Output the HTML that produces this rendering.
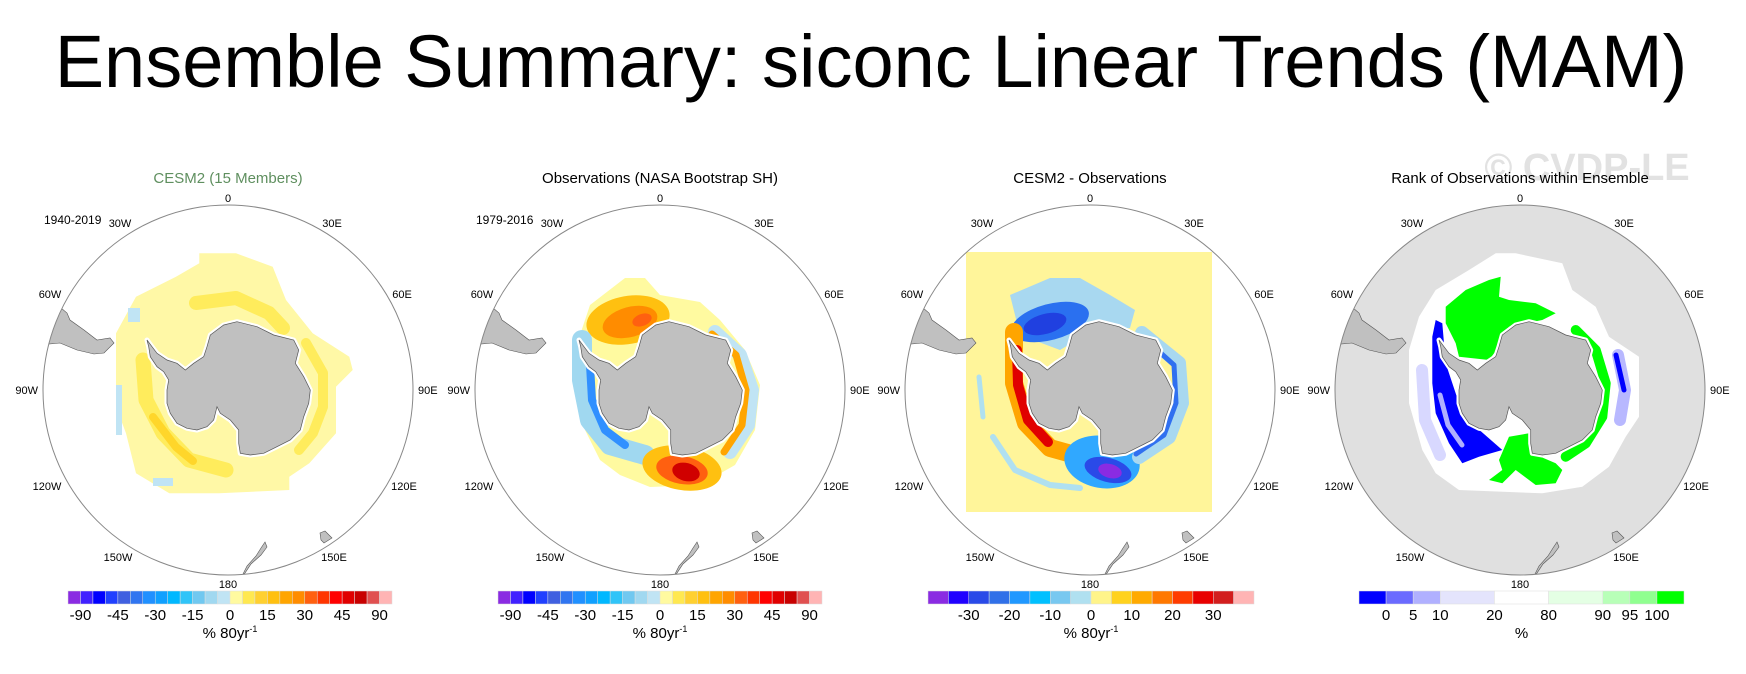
<!DOCTYPE html>
<html><head><meta charset="utf-8">
<style>
html,body{margin:0;padding:0;background:#fff;}
svg{display:block;font-family:"Liberation Sans",sans-serif;}
</style></head>
<body>
<svg id="chart" width="1746" height="674" viewBox="0 0 1746 674" xmlns="http://www.w3.org/2000/svg">
<text x="1587" y="180" text-anchor="middle" font-size="38" font-weight="bold" fill="#e2e2e2">© CVDP-LE</text>
<text x="871" y="87" text-anchor="middle" font-size="74" fill="#000">Ensemble Summary: siconc Linear Trends (MAM)</text>
<g id="panels"></g>
</svg>
<script>
// ---- colorbar data ----
const trendColors = ["#8a2be2","#4020ff","#0000ff","#2040ff","#4060e0","#3075f0","#2090ff","#10a0ff","#00b8ff","#30c4f8","#70c8f0","#a0d8f0","#c0e4f4","#fffaa0","#ffe850","#ffd030","#ffc010","#ffa500","#ff8c00","#ff6010","#ff3500","#ff0000","#e00000","#c80000","#e05050","#ffb4b4"];
const trendLabels = ["-90","-45","-30","-15","0","15","30","45","90"];
const trendLabelIdx = [1,4,7,10,13,16,19,22,25];
const diffColors = ["#8a2be2","#2000ff","#2a4ae8","#3070e8","#2098ff","#00c0ff","#78c8f0","#b0e0f0","#fff48a","#ffd21e","#ffaa00","#ff7800","#ff3c00","#e80000","#d21e1e","#ffb4b4"];
const diffLabels = ["-30","-20","-10","0","10","20","30"];
const diffLabelIdx = [2,4,6,8,10,12,14];
const rankColors = ["#0000ff","#6a6aff","#b0b0ff","#e4e4fc","#ffffff","#e4ffe4","#b8ffb8","#90ff90","#00ff00"];
const rankWidths = [1,1,1,2,2,2,1,1,1];
const rankLabels = ["0","5","10","20","80","90","95","100"];

const NS="http://www.w3.org/2000/svg";
const root=document.getElementById('panels');
function mk(tag,attrs,parent){const e=document.createElementNS(NS,tag);for(const k in attrs)e.setAttribute(k,attrs[k]);(parent||root).appendChild(e);return e;}
function pts(cx,cy,arr){return arr.map(p=>(cx+p[0]).toFixed(1)+","+(cy+p[1]).toFixed(1)).join(" ");}
function pth(cx,cy,arr){return "M"+arr.map(p=>(cx+p[0]).toFixed(1)+" "+(cy+p[1]).toFixed(1)).join(" L");}

const ANT=[[-17.7,-55],[-4.3,-65],[9,-68.3],[29,-63.3],[45.7,-55],[65.7,-50],[70.7,-40],[67.3,-26.7],[75.7,-13.3],[82.3,0],[80.7,13.3],[75.7,26.7],[72.3,40],[62.3,50],[49,56.7],[35.7,63.3],[22.3,65],[12.3,63.3],[10.7,53.3],[10.7,40],[2.3,30],[-7.7,23.3],[-11,16.7],[-14.3,30],[-21,36.7],[-31,40],[-41,38.3],[-51,33.3],[-57.7,23.3],[-61,13.3],[-61,0],[-59.3,-10],[-64.3,-18.3],[-71,-23.3],[-77.7,-33.3],[-79.3,-43.3],[-81,-50],[-76,-43.3],[-71,-36.7],[-61,-30],[-51,-26.7],[-42.7,-20],[-34.3,-26.7],[-24.3,-33.3],[-21,-43.3]];
const SAM=[[-190,-55],[-168,-83],[-161,-77],[-158,-70],[-144,-60],[-131,-50],[-118,-52],[-114,-47],[-124,-37],[-134,-36],[-151,-40],[-168,-47],[-190,-45]];
const NZ=[[37,152],[39,157],[33,165],[23,174],[17,183],[14,186],[19,176],[28,166],[33,158]];
const TAS=[[92,143],[97,141],[104,148],[96,153],[93,150]];
const R=185, CY=390;
const centers=[228,660,1090,1520];
const titles=["CESM2 (15 Members)","Observations (NASA Bootstrap SH)","CESM2 - Observations","Rank of Observations within Ensemble"];
const lonLabels=[["0",0,-192,"middle"],["30E",104,-167,"middle"],["60E",174,-96,"middle"],["90E",190,0,"start"],["120E",176,96,"middle"],["150E",106,167,"middle"],["180",0,194,"middle"],["150W",-110,167,"middle"],["120W",-181,96,"middle"],["90W",-190,0,"end"],["60W",-178,-96,"middle"],["30W",-108,-167,"middle"]];

function blob(g,cx,cy,arr,fill){const e=mk('polygon',{points:pts(cx,cy,arr),fill:fill},g);return e;}
function band(g,cx,cy,arr,col,w){return mk('path',{d:pth(cx,cy,arr),fill:'none',stroke:col,'stroke-width':w,'stroke-linecap':'round','stroke-linejoin':'round'},g);}
function ell(g,x,y,rx,ry,col,rot){return mk('ellipse',{cx:x,cy:y,rx:rx,ry:ry,fill:col,transform:'rotate('+(rot||0)+' '+x+' '+y+')'},g);}

function field(i,cx,g){
  const cy=CY;
  if(i===0){
    blob(g,cx,cy,[[-28.7,-136.7],[8,-136.7],[44.7,-123.3],[58,-90],[84.7,-56.7],[121.3,-33.3],[124.7,-20],[108,-3.3],[108,43.3],[81.3,73.3],[61.3,86.7],[61.3,100],[-8.7,103.3],[-58.7,103.3],[-92,83.3],[-102,43.3],[-112,16.7],[-112,-56.7],[-92,-93.3],[-52,-113.3],[-28.7,-126.7]],"#fff8a6");
    band(g,cx,cy,[[-32,-87],[8,-92],[41,-77],[55,-62]],"#ffec5c",14);
    band(g,cx,cy,[[-85,-30],[-82,10],[-65,43],[-39,70],[-2,80]],"#ffec5c",15);
    band(g,cx,cy,[[-75,27],[-52,57],[-35,71]],"#ffd62a",8);
    band(g,cx,cy,[[78,-47],[95,-17],[95,17],[85,43],[71,60]],"#ffec5c",10);
    mk('rect',{x:cx-112,y:cy-5,width:6,height:50,fill:"#c0e4f4"},g);
    mk('rect',{x:cx-100,y:cy-82,width:12,height:14,fill:"#c0e4f4"},g);
    mk('rect',{x:cx-75,y:cy+88,width:20,height:8,fill:"#c0e4f4"},g);
  } else if(i===1){
    blob(g,cx,cy,[[-70,-85],[-35,-112],[-15,-112],[0,-95],[40,-88],[60,-70],[85,-40],[100,-5],[95,40],[75,75],[40,95],[-10,97],[-40,85],[-60,70],[-75,40],[-78,0],[-80,-55]],"#fffaa0");
    ell(g,cx-32,cy-70,42,24,"#ffc010",-10);
    ell(g,cx-30,cy-68,28,15,"#ff8c00",-15);
    ell(g,cx-18,cy-70,10,6,"#ff6010",-20);
    band(g,cx,cy,[[55,-58],[80,-35],[92,0],[88,35],[70,62]],"#c0e4f4",14);
    band(g,cx,cy,[[52,-56],[76,-35],[86,0],[82,35],[64,62]],"#ffa500",7);
    band(g,cx,cy,[[-78,-50],[-78,-10],[-70,30],[-50,55],[-15,65]],"#a0d8f0",20);
    band(g,cx,cy,[[-70,-25],[-68,10],[-55,40],[-35,55]],"#3090ff",8);
    ell(g,cx+22,cy+78,40,22,"#ffc010",10);
    ell(g,cx+22,cy+80,26,14,"#ff6010",10);
    ell(g,cx+26,cy+82,14,9,"#d00000",15);
  } else if(i===2){
    mk('rect',{x:cx-124,y:cy-138,width:246,height:260,fill:"#fff59a"},g);
    blob(g,cx,cy,[[-80,-95],[-40,-112],[-10,-112],[20,-95],[45,-80],[40,-62],[0,-58],[-30,-40],[-70,-55]],"#a8d8f0");
    ell(g,cx-40,cy-68,40,18,"#2a70f0",-15);
    ell(g,cx-45,cy-66,22,10,"#2040e0",-15);
    band(g,cx,cy,[[-76,-58],[-76,-7],[-64,33],[-40,58],[-22,63]],"#ffa500",18);
    band(g,cx,cy,[[-73,-40],[-72,-5],[-62,30],[-42,52]],"#e00000",10);
    ell(g,cx+12,cy+72,38,26,"#30a8ff",10);
    ell(g,cx+18,cy+80,24,12,"#2a4ae8",15);
    ell(g,cx+20,cy+81,12,7,"#8a2be2",15);
    band(g,cx,cy,[[52,-57],[89,-27],[92,13],[79,47],[49,67]],"#a8d8f0",14);
    band(g,cx,cy,[[54,-52],[84,-25],[86,13],[74,45],[46,64]],"#3070f0",5);
    band(g,cx,cy,[[-111,-13],[-107,27]],"#b0e0f0",5);
    band(g,cx,cy,[[-97,47],[-75,80],[-40,95],[-10,98]],"#b0e0f0",6);
  } else {
    mk('circle',{cx:cx,cy:cy,r:R,fill:"#e0e0e0"},g);
    blob(g,cx,cy,[[-24.3,-136.7],[-4.3,-136.7],[42.3,-126.7],[52.3,-100],[75.7,-83.3],[89,-53.3],[119,-33.3],[119,26.7],[105.7,46.7],[89,76.7],[62.3,96.7],[22.3,103.3],[-61,100],[-84.3,83.3],[-97.7,60],[-111,13.3],[-111,-40],[-101,-73.3],[-84.3,-100],[-51,-120]],"#ffffff");
    band(g,cx,cy,[[98,-35],[105,0],[100,30]],"#b8b8ff",12);
    band(g,cx,cy,[[-98,-20],[-95,30],[-80,65]],"#d8d8ff",12);
    blob(g,cx,cy,[[-84.3,-70],[-77.7,-66.7],[-74.3,-26.7],[-61,13.3],[-44.3,36.7],[-17.7,60],[-41,66.7],[-57.7,73.3],[-71,53.3],[-84.3,23.3],[-87.7,-6.7],[-87.7,-53.3]],"#0000ff");
    band(g,cx,cy,[[-80,5],[-72,35],[-58,55]],"#b0b0ff",5);
    blob(g,cx,cy,[[-74.3,-83.3],[-54.3,-100],[-31,-110],[-19.3,-113.3],[-21,-93.3],[-11,-90],[15.7,-86.7],[35.7,-76.7],[22.3,-70],[-11,-63.3],[-21,-43.3],[-31,-30],[-61,-33.3],[-64.3,-46.7],[-74.3,-66.7]],"#00ff00");
    blob(g,cx,cy,[[-31,90],[-17.7,80],[-21,70],[-11,46.7],[9,43.3],[12.3,63.3],[35.7,73.3],[42.3,80],[35.7,93.3],[15.7,95],[-4.3,80],[-17.7,93.3]],"#00ff00");
    band(g,cx,cy,[[55.7,-60],[75.7,-40],[85.7,-6.7],[82.3,26.7],[65.7,53.3],[45.7,66.7]],"#00ff00",10);
    band(g,cx,cy,[[96,-35],[104,0]],"#0000ff",5);
  }
}

centers.forEach((cx,i)=>{
  const g=mk('g',{});
  
  
  const cid='clip'+i;
  const cp=mk('clipPath',{id:cid},g); mk('circle',{cx:cx,cy:CY,r:R},cp);
  const fg=mk('g',{'clip-path':'url(#'+cid+')'},g);
  
  
  field(i,cx,fg);
  const halo=mk('polygon',{points:pts(cx,CY,ANT),fill:'#fff',stroke:'#fff','stroke-width':5,'stroke-linejoin':'round'},fg);
  
  
  const ant=mk('polygon',{points:pts(cx,CY,ANT),fill:'#c0c0c0',stroke:'#555','stroke-width':0.7},fg);
  
  
  const sa=mk('polygon',{points:pts(cx,CY,SAM),fill:'#c0c0c0',stroke:'#555','stroke-width':0.6},fg);
  
  
  const nz=mk('polygon',{points:pts(cx,CY,NZ),fill:'#c0c0c0',stroke:'#555','stroke-width':0.6},fg);
  
  
  const ts=mk('polygon',{points:pts(cx,CY,TAS),fill:'#c0c0c0',stroke:'#555','stroke-width':0.6},fg);
  
  
  const c=mk('circle',{cx:cx,cy:CY,r:R,fill:'none',stroke:'#888','stroke-width':1},g);
  
  
  const t=mk('text',{x:cx,y:183,'text-anchor':'middle','font-size':15,fill:i===0?'#5f8f5f':'#000'},g);
  t.textContent=titles[i];
  
  
  if(i<2){
    const yr=mk('text',{x:cx-184,y:224,'font-size':12,fill:'#000'},g);
    yr.textContent=i===0?"1940-2019":"1979-2016";
    
    
  }
  lonLabels.forEach(l=>{
    const e=mk('text',{x:cx+l[1],y:CY+l[2]+4,'text-anchor':l[3],'font-size':11,fill:'#000'},g);
    e.textContent=l[0];
    
    
  });
});

function colorbar(x0,width,colors,widths,labels,labelPos,unit,sup){
  const g=mk('g',{});
  
  
  const tot=widths.reduce((a,b)=>a+b,0);
  let acc=0; const bounds=[x0];
  colors.forEach((c,k)=>{
    const x=x0+acc/tot*width, w=widths[k]/tot*width;
    const r=mk('rect',{x:x,y:591,width:w,height:13,fill:c,stroke:'#ddd','stroke-width':0.5},g);
    
    
    acc+=widths[k]; bounds.push(x0+acc/tot*width);
  });
  labels.forEach((l,k)=>{
    const e=mk('text',{x:bounds[labelPos[k]],y:620,'text-anchor':'middle','font-size':15,fill:'#000'},g);
    e.textContent=l;
    
    
  });
  const u=mk('text',{x:x0+width/2,y:638,'text-anchor':'middle','font-size':15,fill:'#000'},g);
  u.textContent=unit;
  if(sup){const s=mk('tspan',{'font-size':9,dy:-6},u); s.textContent=sup;}
  
  
}
const ones=n=>Array(n).fill(1);
colorbar(68,324,trendColors,ones(trendColors.length),trendLabels,trendLabelIdx,"% 80yr","-1");
colorbar(498,324,trendColors,ones(trendColors.length),trendLabels,trendLabelIdx,"% 80yr","-1");
colorbar(928,326,diffColors,ones(diffColors.length),diffLabels,diffLabelIdx,"% 80yr","-1");
colorbar(1359,325,rankColors,rankWidths,rankLabels,[1,2,3,4,5,6,7,8],"%",null);
</script>
</body></html>
